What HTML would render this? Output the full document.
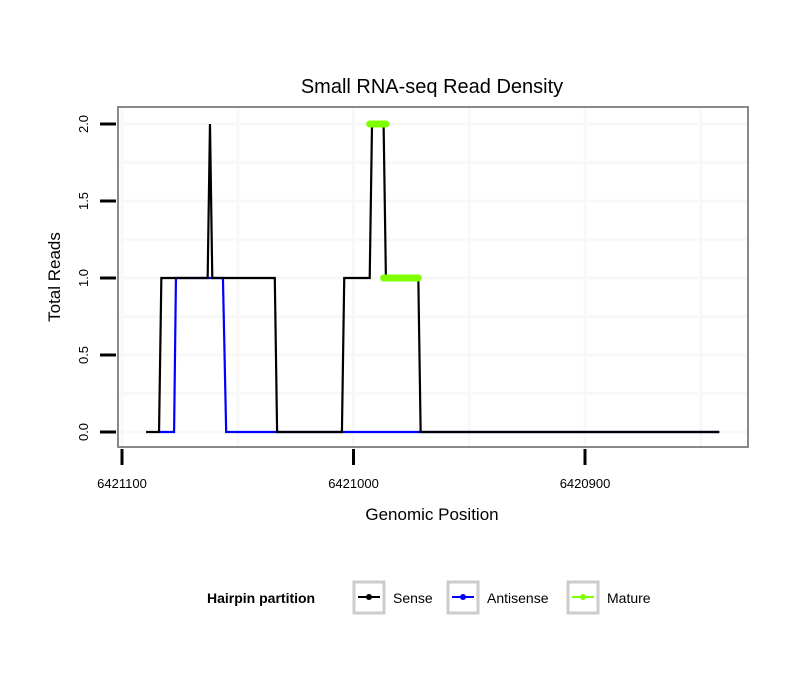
<!DOCTYPE html>
<html><head><meta charset="utf-8"><style>
body{margin:0;background:#fff;font-family:"Liberation Sans",sans-serif}
svg text{font-family:"Liberation Sans",sans-serif}
</style></head><body>
<svg id="c" width="810" height="690">
<text x="432" y="93" text-anchor="middle" font-size="20">Small RNA-seq Read Density</text>
<g id="grid"></g>
<g id="series"></g>
<rect x="118" y="107" width="630" height="340" fill="none" stroke="#888" stroke-width="2"/>
<g id="axes"></g>
<text x="432" y="520" text-anchor="middle" font-size="17">Genomic Position</text>
<text transform="translate(60,277) rotate(-90)" text-anchor="middle" font-size="17">Total Reads</text>
<g>
<text x="207" y="603" font-size="14" font-weight="bold">Hairpin partition</text>
<g><rect x="354" y="582" width="30" height="31" fill="#fff" stroke="#ccc" stroke-width="3"/><line x1="358" y1="597" x2="380" y2="597" stroke="#000" stroke-width="2"/><circle cx="369" cy="597" r="3" fill="#000"/><text x="393" y="603" font-size="14">Sense</text></g>
<g><rect x="448" y="582" width="30" height="31" fill="#fff" stroke="#ccc" stroke-width="3"/><line x1="452" y1="597" x2="474" y2="597" stroke="#00f" stroke-width="2"/><circle cx="463" cy="597" r="3" fill="#00f"/><text x="487" y="603" font-size="14">Antisense</text></g>
<g><rect x="568" y="582" width="30" height="31" fill="#fff" stroke="#ccc" stroke-width="3"/><line x1="572" y1="597" x2="594" y2="597" stroke="#7fff00" stroke-width="2"/><circle cx="583" cy="597" r="3" fill="#7fff00"/><text x="607" y="603" font-size="14">Mature</text></g>
</g>
</svg>
<script>
const xTicks=[6421100,6421000,6420900];
const xMinor=[6421050,6420950,6420850];
const yTicks=[0,0.5,1,1.5,2];
const yTickLabels=["0.0","0.5","1.0","1.5","2.0"];
const yMinor=[0.25,0.75,1.25,1.75];
const senseX=[6421089.6,6421084,6421083,6421063,6421062,6421061,6421034,6421033,6421005,6421004,6420993,6420992,6420987,6420986,6420972,6420971,6420842];
const senseY=[0,0,1,1,2,1,1,0,0,1,1,2,2,1,1,0,0];
const antiX=[6421084,6421077.5,6421076.7,6421056.4,6421055,6420842];
const antiY=[0,0,1,1,0,0];
const matureSegStart=[6420993,6420987];
const matureSegEnd=[6420986,6420972];
const matureVal=[2,1];
const NS="http://www.w3.org/2000/svg";
function X(v){return 122+(6421100-v)*2.315;}
function Y(v){return 432-v*154;}
function mk(t,a,p){const e=document.createElementNS(NS,t);for(const k in a)e.setAttribute(k,a[k]);p.appendChild(e);return e;}
const grid=document.getElementById('grid'),axes=document.getElementById('axes'),ser=document.getElementById('series');
mk('rect',{x:118,y:107,width:630,height:340,fill:'#fff'},grid);
yMinor.concat(yTicks).forEach(v=>{const l=mk('line',{x1:119,x2:747,y1:Y(v),y2:Y(v),stroke:'#f8f8f8','stroke-width':3},grid);

});
xMinor.concat(xTicks).forEach(v=>{const l=mk('line',{x1:X(v),x2:X(v),y1:108,y2:446,stroke:'#f8f8f8','stroke-width':3},grid);

});
yTicks.forEach((v,i)=>{const l=mk('line',{x1:100,x2:116,y1:Y(v),y2:Y(v),stroke:'#000','stroke-width':3},axes);


const t=mk('text',{transform:`translate(88,${Y(v)}) rotate(-90)`,'text-anchor':'middle','font-size':13},axes);t.textContent=yTickLabels[i];

});
xTicks.forEach(v=>{const l=mk('line',{x1:X(v),x2:X(v),y1:449,y2:465,stroke:'#000','stroke-width':3},axes);


const t=mk('text',{x:X(v),y:488,'text-anchor':'middle','font-size':13},axes);t.textContent=v;

});
const a=mk('polyline',{points:antiX.map((v,i)=>X(v)+','+Y(antiY[i])).join(' '),fill:'none',stroke:'#00f','stroke-width':2.2},ser);


const s=mk('polyline',{points:senseX.map((v,i)=>X(v)+','+Y(senseY[i])).join(' '),fill:'none',stroke:'#000','stroke-width':2.2},ser);


matureVal.forEach((v,i)=>{const l=mk('line',{x1:X(matureSegStart[i]),x2:X(matureSegEnd[i]),y1:Y(v),y2:Y(v),stroke:'#7fff00','stroke-width':7,'stroke-linecap':'round'},ser);

});
</script>
</body></html>
